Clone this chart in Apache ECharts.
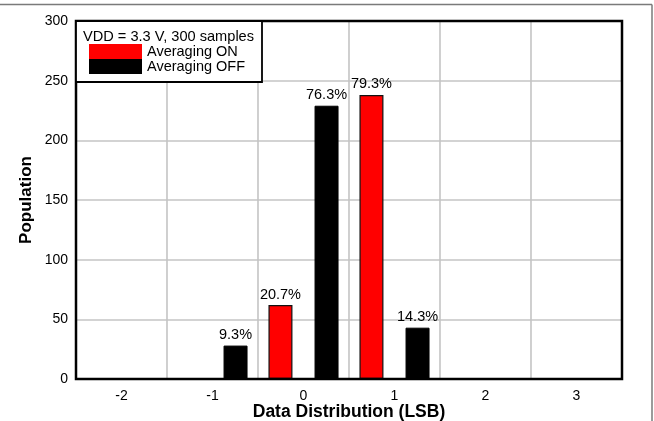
<!DOCTYPE html>
<html>
<head>
<meta charset="utf-8">
<script src="https://cdn.jsdelivr.net/npm/echarts@6/dist/echarts.min.js"></script>
<style>
html,body{margin:0;padding:0;background:#fff;}
#c{width:654px;height:421px;}
</style>
</head>
<body>
<div id="c"></div>
<script>
const categories = ['-2', '-1', '0', '1', '2', '3'];
const averagingOn = [null, null, 62, 238, null, null];
const averagingOff = [null, 28, 229, 43, null, null];
const pctOn = ['', '', '20.7%', '79.3%', '', ''];
const pctOff = ['', '9.3%', '76.3%', '14.3%', '', ''];
const yTicks = { min: 0, max: 300, interval: 50 };
const legendTitle = 'VDD = 3.3 V, 300 samples';

const FONT = '"Liberation Sans", Arial, sans-serif';
const G = { left: 76, top: 21, width: 546, height: 358 };
const chart = echarts.init(document.getElementById('c'));
chart.setOption({
  animation: false,
  textStyle: { fontFamily: FONT },
  grid: { left: G.left, top: G.top, width: G.width, height: G.height, containLabel: false, outerBoundsMode: 'none', show: false },
  xAxis: {
    type: 'category',
    data: categories,
    axisLine: { show: false },
    axisTick: { show: false },
    axisLabel: { color: '#000', fontSize: 14, margin: 10, fontFamily: FONT },
    splitLine: { show: true, lineStyle: { color: '#c4c4c4', width: 1.6 } },
    name: 'Data Distribution (LSB)',
    nameLocation: 'middle',
    nameMoveOverlap: false,
    nameGap: 24,
    nameTextStyle: { color: '#000', fontSize: 17.5, fontWeight: 'bold', fontFamily: FONT }
  },
  yAxis: {
    type: 'value',
    min: yTicks.min, max: yTicks.max, interval: yTicks.interval,
    axisLine: { show: false },
    axisTick: { show: false },
    axisLabel: { color: '#000', fontSize: 14, margin: 8, fontFamily: FONT },
    splitLine: { show: true, lineStyle: { color: '#c4c4c4', width: 1.6 } },
    name: 'Population',
    nameLocation: 'middle',
    nameMoveOverlap: false,
    nameGap: 41,
    nameTextStyle: { color: '#000', fontSize: 17, fontWeight: 'bold', fontFamily: FONT }
  },
  legend: {
    orient: 'vertical',
    left: 89, top: 44,
    padding: 0,
    itemGap: 0,
    itemWidth: 53, itemHeight: 15,
    icon: 'rect',
    z: 10,
    itemStyle: { borderWidth: 0 },
    textStyle: { color: '#000', fontSize: 14.5, fontFamily: FONT },
    data: ['Averaging ON', 'Averaging OFF']
  },
  graphic: [
    { type: 'rect', z: 7, silent: true, shape: { x: G.left, y: G.top, width: G.width, height: G.height }, style: { fill: 'none', stroke: '#000', lineWidth: 2.5 } },
    { type: 'rect', z: 8, shape: { x: 76, y: 21, width: 186, height: 61 }, style: { fill: '#fff', stroke: '#000', lineWidth: 1.8 } },
    { type: 'text', z: 9, x: 83, y: 37, style: { text: legendTitle, fill: '#000', font: '14.6px ' + FONT, verticalAlign: 'middle' } },
    { type: 'line', z: 9, shape: { x1: 0, y1: 4.5, x2: 652, y2: 4.5 }, style: { stroke: '#7a7a7a', lineWidth: 1.5 } },
    { type: 'line', z: 9, shape: { x1: 652, y1: 4.5, x2: 652, y2: 421 }, style: { stroke: '#7a7a7a', lineWidth: 1.5 } }
  ],
  series: [
    {
      name: 'Averaging ON', type: 'bar', data: averagingOn,
      barWidth: 24, barGap: '92%',
      itemStyle: { color: '#ff0000', borderColor: '#111', borderWidth: 1.2 },
      label: { show: true, position: 'top', distance: 3, color: '#000', fontSize: 14.5, fontFamily: FONT,
        formatter: p => pctOn[p.dataIndex] }
    },
    {
      name: 'Averaging OFF', type: 'bar', data: averagingOff,
      barWidth: 24, barGap: '92%',
      itemStyle: { color: '#000', borderColor: '#000', borderWidth: 1 },
      label: { show: true, position: 'top', distance: 3, color: '#000', fontSize: 14.5, fontFamily: FONT,
        formatter: p => pctOff[p.dataIndex] }
    }
  ]
});
</script>
</body>
</html>
